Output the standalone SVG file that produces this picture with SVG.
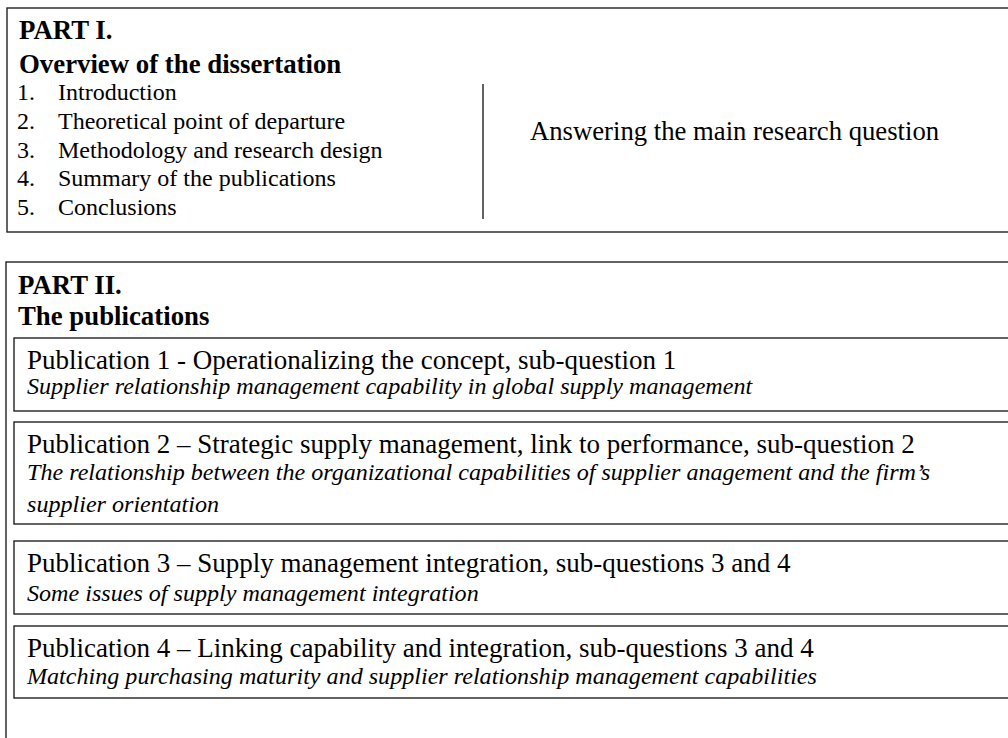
<svg xmlns="http://www.w3.org/2000/svg" width="1008" height="738" viewBox="0 0 1008 738">
<style>
.box{fill:none;stroke:#222;stroke-width:1.4}
.b{font-family:"Liberation Serif","Times New Roman",serif;font-weight:bold;font-size:26.8px;fill:#000}
.t{font-family:"Liberation Serif","Times New Roman",serif;font-size:24px;fill:#000}
.m{font-family:"Liberation Serif","Times New Roman",serif;font-size:27px;fill:#000}
.a{font-family:"Liberation Serif","Times New Roman",serif;font-size:26.7px;fill:#000}
.i{font-family:"Liberation Serif","Times New Roman",serif;font-style:italic;font-size:24.1px;fill:#000}
</style>
<rect width="1008" height="738" fill="#fff"/>
<g id="part1">
<rect class="box" x="7" y="8" width="1010" height="224"/>
<text class="b" x="19" y="39">PART I.</text>
<text class="b" x="19" y="73">Overview of the dissertation</text>
<text class="t" x="17" y="100">1.</text><text class="t" x="58" y="100">Introduction</text>
<text class="t" x="17" y="129">2.</text><text class="t" x="58" y="129">Theoretical point of departure</text>
<text class="t" x="17" y="158">3.</text><text class="t" x="58" y="158">Methodology and research design</text>
<text class="t" x="17" y="186">4.</text><text class="t" x="58" y="186">Summary of the publications</text>
<text class="t" x="17" y="215">5.</text><text class="t" x="58" y="215">Conclusions</text>
<text class="a" x="530" y="140">Answering the main research question</text>
</g>
<g id="connectors">
<line x1="483" y1="84" x2="483" y2="219" stroke="#222" stroke-width="1.4"/>
</g>
<g id="part2">
<rect class="box" x="6" y="262" width="1010" height="500"/>
<text class="b" x="18" y="294">PART II.</text>
<text class="b" x="18" y="325">The publications</text>
</g>
<g id="pub1">
<rect class="box" x="14" y="338" width="1010" height="73"/>
<text class="m" x="27" y="369">Publication 1 - Operationalizing the concept, sub-question 1</text>
<text class="i" x="27" y="394">Supplier relationship management capability in global supply management</text>
</g>
<g id="pub2">
<rect class="box" x="14" y="422" width="1010" height="102"/>
<text class="m" x="27" y="453">Publication 2 – Strategic supply management, link to performance, sub-question 2</text>
<text class="i" x="27" y="480">The relationship between the organizational capabilities of supplier anagement and the firm’s</text>
<text class="i" x="27" y="512">supplier orientation</text>
</g>
<g id="pub3">
<rect class="box" x="14" y="541" width="1010" height="73"/>
<text class="m" x="27" y="572">Publication 3 – Supply management integration, sub-questions 3 and 4</text>
<text class="i" x="27" y="601">Some issues of supply management integration</text>
</g>
<g id="pub4">
<rect class="box" x="14" y="626" width="1010" height="72"/>
<text class="m" x="27" y="657">Publication 4 – Linking capability and integration, sub-questions 3 and 4</text>
<text class="i" x="27" y="684">Matching purchasing maturity and supplier relationship management capabilities</text>
</g>
</svg>
